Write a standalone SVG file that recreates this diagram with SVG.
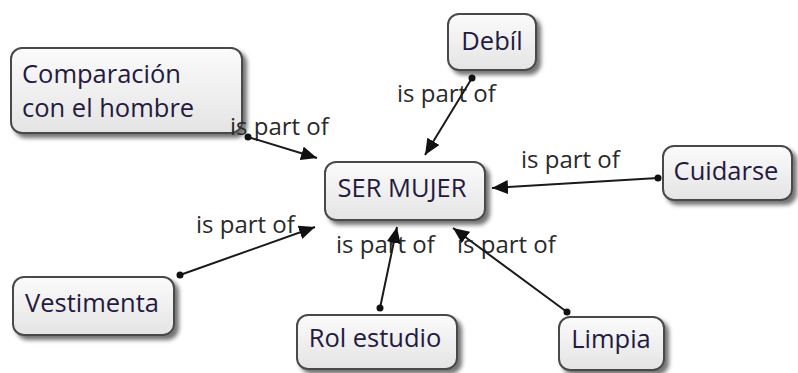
<svg xmlns="http://www.w3.org/2000/svg" width="798" height="373" viewBox="0 0 798 373">
  <defs>
    <linearGradient id="g" x1="0" y1="0" x2="0" y2="1">
      <stop offset="0" stop-color="#fbfbfb"/>
      <stop offset="1" stop-color="#e4e4e4"/>
    </linearGradient>
    <filter id="sh" x="-10%" y="-10%" width="130%" height="140%">
      <feDropShadow dx="4" dy="4" stdDeviation="2" flood-color="#000" flood-opacity="0.55"/>
    </filter>
    <marker id="arr" markerUnits="userSpaceOnUse" markerWidth="18" markerHeight="14" refX="16" refY="7" orient="auto">
      <path d="M0,0 L16,7 L0,14 Z" fill="#111"/>
    </marker>
  </defs>
  <style>
    .box { fill: url(#g); stroke: #4a4a4a; stroke-width: 2; filter: url(#sh); }
    .nt { font-family: "Open Sans", "Liberation Sans", sans-serif; font-size: 25.5px; fill: #241a40; }
    .lbl { font-family: "Open Sans", "Liberation Sans", sans-serif; font-size: 24px; fill: #2a2a2a; }
    .ln { stroke: #1a1a1a; stroke-width: 2; fill: none; marker-end: url(#arr); }
    .dot { fill: #111; }
  </style>
  <rect width="798" height="373" fill="#ffffff"/>

  <g id="node-comparacion">
    <rect class="box" x="11" y="48" width="231" height="85" rx="11"/>
    <text class="nt" x="22" y="83">Comparación</text>
    <text class="nt" x="22" y="117">con el hombre</text>
  </g>
  <g id="node-debil">
    <rect class="box" x="448" y="14" width="88" height="56" rx="11"/>
    <text class="nt" x="492" y="50" text-anchor="middle">Debíl</text>
  </g>
  <g id="node-ser-mujer">
    <rect class="box" x="325" y="162" width="160" height="58" rx="11"/>
    <text class="nt" x="402" y="197" text-anchor="middle">SER MUJER</text>
  </g>
  <g id="node-cuidarse">
    <rect class="box" x="663" y="146" width="129" height="54" rx="11"/>
    <text class="nt" x="726" y="180" text-anchor="middle">Cuidarse</text>
  </g>
  <g id="node-vestimenta">
    <rect class="box" x="13" y="277" width="161" height="58" rx="11"/>
    <text class="nt" x="92" y="312" text-anchor="middle">Vestimenta</text>
  </g>
  <g id="node-rol-estudio">
    <rect class="box" x="297" y="315" width="160" height="54" rx="11"/>
    <text class="nt" x="375" y="347" text-anchor="middle">Rol estudio</text>
  </g>
  <g id="node-limpia">
    <rect class="box" x="559" y="317" width="105" height="53" rx="11"/>
    <text class="nt" x="611" y="348" text-anchor="middle">Limpia</text>
  </g>

  <g id="connectors">
    <text class="lbl" x="230" y="135">is part of</text>
    <line class="ln" x1="248" y1="137" x2="317" y2="158"/>
    <circle class="dot" cx="248" cy="137" r="3.5"/>

    <text class="lbl" x="397" y="102">is part of</text>
    <line class="ln" x1="472" y1="78" x2="425" y2="155"/>
    <circle class="dot" cx="472" cy="78" r="3.5"/>

    <text class="lbl" x="521" y="168">is part of</text>
    <line class="ln" x1="658" y1="178" x2="492" y2="188"/>
    <circle class="dot" cx="658" cy="178" r="3.5"/>

    <text class="lbl" x="196" y="233">is part of</text>
    <line class="ln" x1="180" y1="275" x2="315" y2="227"/>
    <circle class="dot" cx="180" cy="275" r="3.5"/>

    <text class="lbl" x="336" y="253">is part of</text>
    <line class="ln" x1="380" y1="308" x2="397" y2="227"/>
    <circle class="dot" cx="380" cy="308" r="3.5"/>

    <text class="lbl" x="457" y="253">is part of</text>
    <line class="ln" x1="567" y1="312" x2="453" y2="228"/>
    <circle class="dot" cx="567" cy="312" r="3.5"/>
  </g>
</svg>
